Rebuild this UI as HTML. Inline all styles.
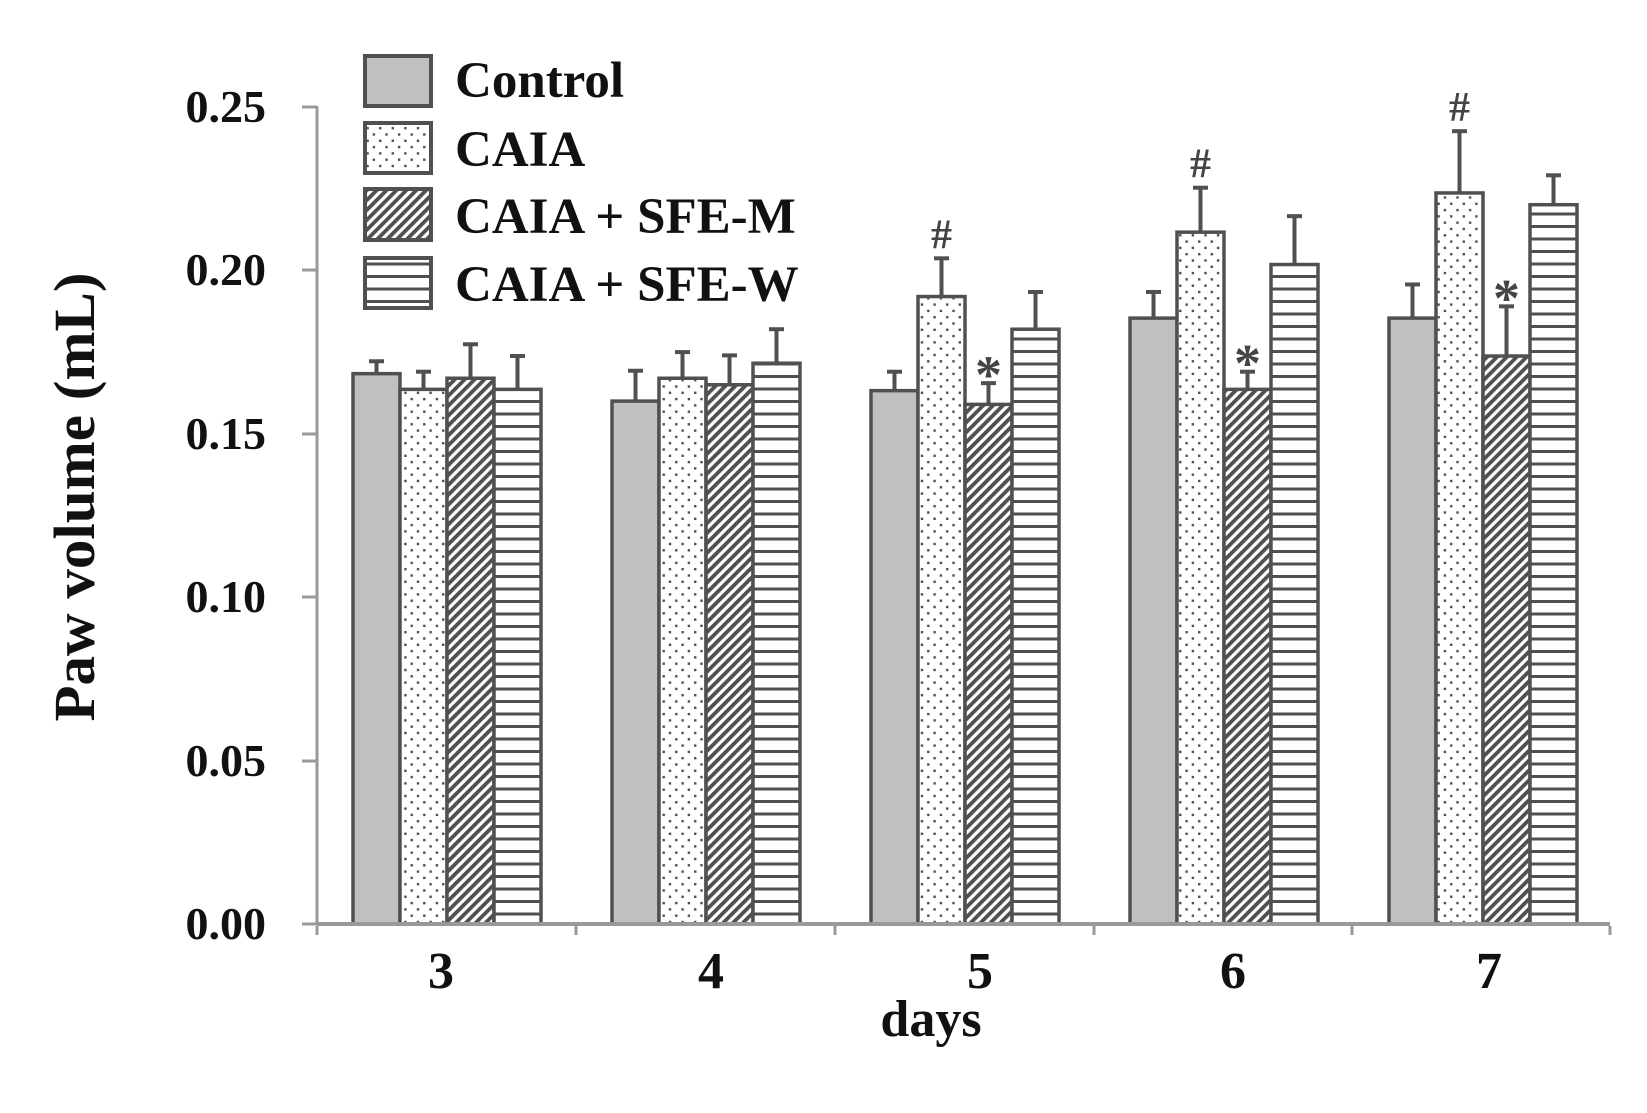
<!DOCTYPE html>
<html><head><meta charset="utf-8"><style>
html,body{margin:0;padding:0;background:#fff;}
svg{display:block;}
text{font-family:"Liberation Serif",serif;font-weight:bold;fill:#111;}
</style></head><body>
<svg width="1647" height="1113" viewBox="0 0 1647 1113" xmlns="http://www.w3.org/2000/svg">
<defs>
<pattern id="dots" width="12.6" height="12.6" patternUnits="userSpaceOnUse">
<rect width="12.6" height="12.6" fill="#fff"/>
<rect x="1" y="1" width="2.4" height="2.4" fill="#505050"/>
<rect x="7.3" y="7.3" width="2.4" height="2.4" fill="#505050"/>
</pattern>
<pattern id="diag" width="7" height="7" patternUnits="userSpaceOnUse" patternTransform="rotate(45)">
<rect width="7" height="7" fill="#fff"/>
<rect width="3.8" height="7" fill="#505050"/>
</pattern>
<pattern id="horiz" width="10" height="12.5" patternUnits="userSpaceOnUse">
<rect width="10" height="12.5" fill="#fff"/>
<rect y="0" width="10" height="3" fill="#505050"/>
</pattern>
</defs>

<line x1="317" y1="106" x2="317" y2="925" stroke="#999" stroke-width="3"/>
<g stroke="#999" stroke-width="3">
<line x1="302" y1="107" x2="317" y2="107"/>
<line x1="302" y1="270" x2="317" y2="270"/>
<line x1="302" y1="434" x2="317" y2="434"/>
<line x1="302" y1="597" x2="317" y2="597"/>
<line x1="302" y1="761" x2="317" y2="761"/>
<line x1="302" y1="924" x2="317" y2="924"/>
<line x1="317" y1="926" x2="317" y2="935"/>
<line x1="576" y1="926" x2="576" y2="935"/>
<line x1="835" y1="926" x2="835" y2="935"/>
<line x1="1094" y1="926" x2="1094" y2="935"/>
<line x1="1352" y1="926" x2="1352" y2="935"/>
<line x1="1610" y1="926" x2="1610" y2="935"/>
</g>
<g font-size="46" text-anchor="end">
<text x="266" y="122">0.25</text>
<text x="266" y="285">0.20</text>
<text x="266" y="449">0.15</text>
<text x="266" y="612">0.10</text>
<text x="266" y="776">0.05</text>
<text x="266" y="939">0.00</text>
</g>
<text transform="translate(94,497) rotate(-90)" font-size="58" text-anchor="middle" textLength="449" lengthAdjust="spacingAndGlyphs">Paw volume (mL)</text>
<g font-size="52" text-anchor="middle">
<text x="441" y="988">3</text>
<text x="711" y="988">4</text>
<text x="980" y="988">5</text>
<text x="1233" y="988">6</text>
<text x="1489" y="988">7</text>
<text x="931" y="1036">days</text>
</g>

<g id="bars" stroke="#505050" stroke-width="3.5"></g>
<line x1="317" y1="924" x2="1610" y2="924" stroke="#999" stroke-width="4"/>

<g stroke="#505050" stroke-width="4">
<rect x="365" y="56" width="66" height="50" fill="#c0c0c0"/>
<rect x="365" y="123" width="66" height="50" fill="url(#dots)"/>
<rect x="365" y="189" width="66" height="51" fill="url(#diag)"/>
<rect x="365" y="258" width="66" height="50" fill="url(#horiz)"/>
</g>
<g font-size="51">
<text x="455" y="97">Control</text>
<text x="455" y="166">CAIA</text>
<text x="455" y="233">CAIA + SFE-M</text>
<text x="455" y="301">CAIA + SFE-W</text>
</g>
<g id="marks" text-anchor="middle"></g>
</svg>
<script>
var data=[[.1684,.1722,.1636,.169,.167,.1774,.1636,.1738],
[.160,.1693,.167,.175,.165,.174,.1716,.182],
[.1632,.169,.192,.2037,.159,.1655,.182,.1934],
[.1854,.1934,.2117,.2253,.1636,.169,.2018,.2166],
[.1854,.1957,.2237,.2426,.1738,.189,.2201,.2291]];
var fills=["#c0c0c0","url(#dots)","url(#diag)","url(#horiz)"];
var g=document.getElementById("bars"),m=document.getElementById("marks");
var ns="http://www.w3.org/2000/svg";
function Y(v){return 924-v*3268;}
for(var i=0;i<5;i++){for(var k=0;k<4;k++){
var x=353+i*259+k*47,v=data[i][k*2],e=data[i][k*2+1];
var r=document.createElementNS(ns,"rect");
r.setAttribute("x",x);r.setAttribute("y",Y(v));r.setAttribute("width",47);r.setAttribute("height",924-Y(v));r.setAttribute("fill",fills[k]);g.appendChild(r);
var cx=x+23.5;
var l=document.createElementNS(ns,"line");l.setAttribute("x1",cx);l.setAttribute("x2",cx);l.setAttribute("y1",Y(v));l.setAttribute("y2",Y(e));l.setAttribute("stroke-width","4");g.appendChild(l);
var c=document.createElementNS(ns,"line");c.setAttribute("x1",cx-7.5);c.setAttribute("x2",cx+7.5);c.setAttribute("y1",Y(e));c.setAttribute("y2",Y(e));c.setAttribute("stroke-width","4");g.appendChild(c);
if(i>=2&&(k==1||k==2)){var t=document.createElementNS(ns,"text");t.setAttribute("x",cx);t.setAttribute("y",Y(e)-(k==1?10:-10));t.setAttribute("style","fill:#444;font-weight:bold");t.setAttribute("font-size",k==1?"42":"54");t.textContent=k==1?"#":"*";m.appendChild(t);}
}}
</script>
</body></html>
